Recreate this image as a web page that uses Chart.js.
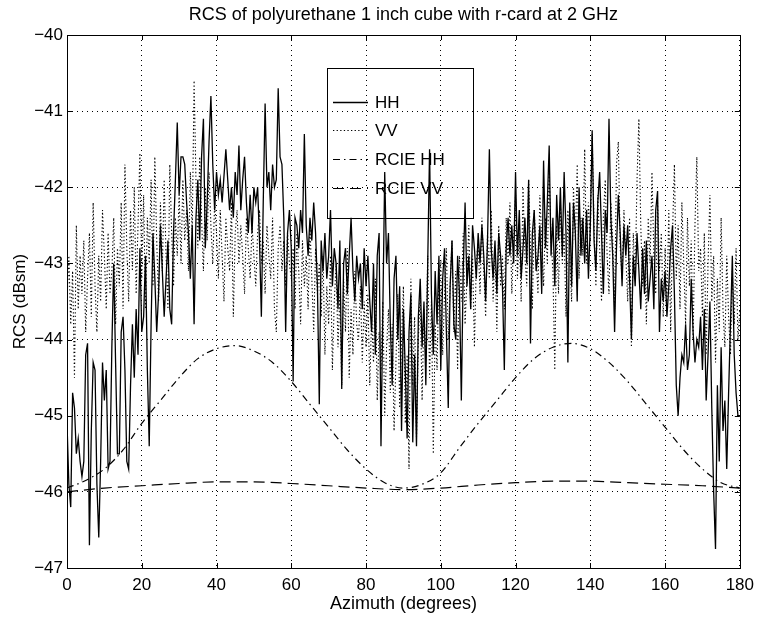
<!DOCTYPE html>
<html>
<head>
<meta charset="utf-8">
<script src="https://cdn.jsdelivr.net/npm/chart.js@4.4.1/dist/chart.umd.min.js"></script>
<style>
  html, body { margin: 0; padding: 0; background: #fff; }
  canvas { display: block; }
</style>
</head>
<body>
<canvas id="c" width="761" height="618"></canvas>
<script>
// ---------------- DATA ----------------
const chartTitle = 'RCS of polyurethane 1 inch cube with r-card at 2 GHz';
const xAxisTitle = 'Azimuth (degrees)';
const yAxisTitle = 'RCS (dBsm)';
const seriesNames = ['HH', 'VV', 'RCIE HH', 'RCIE VV'];

// measured data sampled every 0.5 degree from 0 to 180
const measuredStartDeg = 0;
const measuredStepDeg = 0.5;

const hhValues = [
  -45.1,-45.9,-46.2,-44.7,-44.9,-45.5,-45.3,-45.6,-45.8,-45.6,-44.2,-44.05,-46.7,-45.2,-44.3,-44.4,-45.9,-46.6,-45.6,-44.3,
  -44.8,-44.4,-45.7,-45.6,-44.1,-43.0,-44.3,-45.5,-45.5,-43.9,-43.7,-44.4,-45.6,-45.7,-44.6,-43.8,-44.5,-43.6,-44.2,-42.8,
  -43.9,-43.7,-42.9,-44.4,-45.4,-43.8,-42.6,-43.2,-43.9,-43.4,-42.5,-43.1,-43.7,-43.2,-42.7,-43.6,-43.8,-42.6,-41.9,-41.15,
  -42.1,-41.6,-41.6,-41.7,-42.2,-42.6,-43.2,-42.5,-43.8,-42.4,-41.9,-42.7,-41.6,-41.1,-42.8,-42.2,-41.4,-40.8,-41.7,-42.3,
  -41.8,-42.1,-41.9,-42.2,-41.85,-41.5,-41.9,-42.3,-42.0,-42.4,-41.8,-42.1,-41.45,-42.3,-41.9,-41.6,-42.2,-42.6,-42.1,-42.6,
  -42.0,-42.2,-42.0,-42.7,-43.7,-42.2,-40.9,-42.0,-41.8,-42.3,-41.7,-42.0,-41.9,-40.7,-41.6,-41.7,-42.4,-43.9,-42.6,-42.3,
  -42.8,-44.55,-42.4,-42.5,-42.8,-42.3,-42.6,-41.3,-42.5,-42.9,-42.4,-42.7,-42.2,-42.6,-43.3,-44.85,-42.7,-43.1,-42.6,-43.2,
  -42.9,-42.3,-43.3,-42.8,-43.0,-43.6,-42.7,-44.65,-43.0,-42.8,-43.4,-42.9,-42.4,-43.1,-43.5,-42.9,-43.2,-43.0,-43.6,-42.8,
  -43.3,-42.9,-43.5,-43.9,-43.0,-44.2,-42.9,-42.6,-45.4,-43.6,-41.8,-43.0,-42.6,-43.8,-44.6,-43.2,-42.9,-44.0,-43.3,-45.2,
  -43.6,-44.4,-45.3,-43.9,-43.4,-45.35,-44.2,-45.4,-43.7,-43.2,-44.1,-43.5,-44.6,-43.0,-41.5,-43.4,-44.2,-43.1,-43.8,-42.9,
  -44.4,-43.2,-42.8,-43.9,-44.9,-43.3,-42.7,-43.8,-44.0,-42.9,-43.4,-44.8,-43.1,-42.2,-43.3,-42.9,-43.6,-42.5,-42.8,-43.2,
  -42.6,-43.0,-42.5,-42.9,-43.5,-42.7,-41.5,-42.8,-43.2,-42.7,-43.4,-42.6,-42.9,-43.3,-44.4,-42.8,-42.4,-42.9,-42.5,-43.0,
  -41.8,-42.9,-42.3,-43.2,-42.8,-42.4,-43.0,-41.9,-44.05,-42.6,-42.3,-43.1,-42.9,-42.5,-43.4,-41.65,-42.8,-42.2,-41.45,-42.9,
  -42.4,-43.3,-42.1,-42.7,-42.0,-42.9,-41.8,-42.6,-44.3,-42.2,-43.3,-42.2,-42.6,-43.5,-42.0,-42.9,-42.4,-43.0,-42.3,-43.2,
  -42.5,-41.25,-42.7,-43.1,-42.2,-41.8,-42.6,-43.4,-42.3,-42.6,-41.1,-42.4,-42.9,-43.9,-42.8,-42.1,-42.6,-43.3,-42.5,-42.9,
  -42.5,-43.2,-44.0,-42.9,-43.3,-42.6,-43.1,-43.6,-42.8,-43.4,-42.7,-43.5,-43.2,-42.9,-43.6,-42.3,-42.05,-43.9,-43.2,-43.5,
  -43.1,-43.7,-43.3,-42.8,-42.5,-43.4,-44.6,-45.0,-44.5,-44.2,-44.3,-43.8,-44.4,-44.2,-43.2,-43.9,-44.3,-44.0,-44.1,-43.7,
  -44.4,-43.6,-44.8,-44.2,-43.5,-44.9,-46.0,-46.75,-44.6,-45.6,-44.1,-45.2,-44.8,-45.7,-44.7,-43.8,-42.9,-44.2,-44.7,-45.0,
  -45.0
];

const vvValues = [
  -43.5,-42.9,-43.8,-43.1,-44.5,-42.5,-43.6,-42.9,-43.4,-42.7,-43.9,-43.2,-42.6,-43.7,-42.2,-43.3,-43.9,-42.9,-43.5,-42.3,
  -42.9,-43.6,-42.6,-43.4,-43.1,-42.4,-43.8,-42.8,-43.3,-42.2,-43.6,-41.7,-42.8,-43.5,-42.3,-43.1,-42.0,-43.4,-42.5,-41.55,
  -43.2,-42.1,-43.6,-42.4,-43.0,-41.9,-43.3,-41.6,-42.7,-43.5,-42.2,-43.1,-41.9,-42.9,-43.6,-41.7,-42.6,-43.3,-42.4,-42.9,
  -42.1,-43.0,-41.9,-42.7,-42.3,-43.1,-41.8,-42.6,-40.6,-41.9,-42.8,-41.6,-42.4,-43.1,-42.0,-42.7,-41.8,-42.5,-43.0,-42.2,
  -42.6,-43.2,-42.3,-42.9,-43.5,-42.4,-42.8,-43.1,-42.2,-43.7,-42.6,-42.3,-43.0,-42.5,-42.9,-43.4,-42.4,-42.8,-43.2,-42.5,
  -42.9,-43.3,-42.6,-42.3,-43.0,-42.7,-43.4,-42.5,-42.9,-43.2,-42.4,-43.6,-43.9,-42.8,-42.5,-43.1,-42.7,-43.3,-42.6,-43.0,
  -43.2,-42.8,-43.6,-42.6,-43.1,-43.8,-42.7,-43.3,-42.9,-43.6,-42.5,-43.2,-43.9,-42.8,-43.4,-43.0,-43.7,-42.9,-44.2,-43.3,
  -43.8,-42.9,-44.4,-43.5,-43.0,-44.1,-43.4,-44.6,-43.2,-43.9,-42.8,-44.5,-43.6,-44.2,-43.1,-43.8,-44.0,-43.3,-44.3,-43.5,
  -44.1,-43.4,-44.6,-43.7,-44.3,-43.2,-44.8,-43.9,-44.4,-43.5,-45.0,-44.1,-43.6,-44.7,-43.8,-45.2,-44.3,-43.4,-44.9,-44.0,
  -43.3,-45.1,-44.2,-45.7,-43.2,-44.6,-43.7,-45.3,-44.0,-43.4,-44.8,-43.6,-44.3,-42.9,-44.5,-43.5,-45.5,-43.8,-44.4,-43.1,
  -43.0,-44.2,-43.4,-42.8,-44.0,-43.3,-42.7,-43.9,-43.1,-44.4,-42.9,-43.5,-42.6,-43.8,-43.2,-42.5,-43.6,-42.9,-44.1,-43.0,
  -42.7,-43.4,-42.4,-43.1,-43.7,-42.6,-43.2,-42.3,-43.5,-42.8,-43.9,-42.5,-43.3,-42.9,-43.6,-42.4,-43.0,-42.2,-43.4,-42.7,
  -42.1,-43.2,-42.6,-43.5,-42.0,-42.9,-43.3,-41.9,-42.8,-43.6,-42.3,-42.9,-43.4,-42.1,-42.7,-43.3,-42.4,-43.0,-41.8,-42.7,
  -43.1,-44.4,-42.5,-43.4,-42.2,-43.0,-42.6,-43.7,-42.3,-42.9,-43.5,-42.0,-42.7,-41.7,-43.2,-42.4,-42.9,-41.5,-43.0,-42.2,
  -42.7,-41.3,-42.5,-43.3,-42.1,-42.8,-43.5,-42.4,-41.9,-42.9,-43.4,-42.2,-42.7,-43.6,-41.7,-41.4,-42.8,-43.2,-42.3,-42.9,
  -43.5,-42.4,-44.1,-42.6,-43.2,-41.9,-41.1,-42.5,-43.3,-42.7,-43.8,-42.4,-43.0,-41.8,-42.9,-43.4,-42.2,-43.1,-42.6,-43.7,
  -42.8,-43.5,-42.3,-43.9,-42.6,-41.7,-43.2,-42.5,-43.6,-42.2,-43.0,-43.8,-42.4,-43.3,-42.7,-44.0,-42.5,-41.6,-43.1,-42.8,
  -43.7,-42.6,-44.2,-43.0,-42.1,-43.5,-42.9,-44.3,-43.2,-43.9,-42.4,-43.6,-44.1,-42.9,-43.7,-44.2,-43.1,-43.8,-42.8,-44.0,
  -43.6
];

// RCIE predictions
const rcieHhAzimuth = [0,5,10,15,20,25,30,35,40,45,50,55,60,65,70,75,80,85,90,95,100,105,110,115,120,125,130,135,140,145,150,155,160,165,170,175,180];
const rcieHhValues  = [-45.95,-45.85,-45.7,-45.45,-45.1,-44.8,-44.5,-44.25,-44.12,-44.08,-44.15,-44.3,-44.55,-44.85,-45.15,-45.45,-45.7,-45.88,-45.95,-45.9,-45.75,-45.42,-45.1,-44.8,-44.5,-44.25,-44.1,-44.05,-44.12,-44.3,-44.55,-44.85,-45.15,-45.45,-45.7,-45.88,-45.95];

const rcieVvAzimuth = [0,10,20,30,40,50,60,70,80,90,100,110,120,130,140,150,160,170,180];
const rcieVvValues  = [-46.0,-45.95,-45.92,-45.89,-45.87,-45.87,-45.89,-45.92,-45.95,-45.97,-45.95,-45.91,-45.88,-45.86,-45.86,-45.88,-45.9,-45.92,-45.95];

// axis ranges / ticks
const xMin = 0, xMax = 180, xStep = 20;
const yMin = -47, yMax = -40, yStep = 1;

// ---------------- BUILD ----------------
function pairMeasured(values) {
  return values.map((v, i) => ({ x: measuredStartDeg + i * measuredStepDeg, y: v }));
}
function pairXY(xs, ys) { return xs.map((x, i) => ({ x: x, y: ys[i] })); }

const FONT = "'Liberation Sans', Arial, Helvetica, sans-serif";

const boxAndTicks = {
  id: 'boxAndTicks',
  afterDatasetsDraw(chart) {
    const { ctx, chartArea: a, scales } = chart;
    ctx.save();
    ctx.strokeStyle = '#000';
    ctx.lineWidth = 1;
    ctx.setLineDash([]);
    ctx.strokeRect(Math.round(a.left) + 0.5, Math.round(a.top) + 0.5,
                   Math.round(a.right - a.left), Math.round(a.bottom - a.top));
    const len = 5;
    ctx.beginPath();
    scales.x.ticks.forEach(t => {
      const px = Math.round(scales.x.getPixelForValue(t.value)) + 0.5;
      ctx.moveTo(px, a.bottom); ctx.lineTo(px, a.bottom - len);
      ctx.moveTo(px, a.top); ctx.lineTo(px, a.top + len);
    });
    scales.y.ticks.forEach(t => {
      const py = Math.round(scales.y.getPixelForValue(t.value)) + 0.5;
      ctx.moveTo(a.left, py); ctx.lineTo(a.left + len, py);
      ctx.moveTo(a.right, py); ctx.lineTo(a.right - len, py);
    });
    ctx.stroke();
    ctx.restore();
  }
};

const insideLegend = {
  id: 'insideLegend',
  afterDraw(chart) {
    const { ctx } = chart;
    const box = { x: 327, y: 68, w: 146, h: 150 };
    const rowY = [102, 130, 159, 188];
    ctx.save();
    ctx.strokeStyle = '#000';
    ctx.lineWidth = 1;
    ctx.setLineDash([]);
    ctx.strokeRect(box.x + 0.5, box.y + 0.5, box.w, box.h);
    chart.data.datasets.forEach((ds, i) => {
      ctx.beginPath();
      ctx.setLineDash(ds.borderDash || []);
      ctx.lineWidth = ds.borderWidth;
      ctx.strokeStyle = ds.borderColor;
      ctx.moveTo(333, rowY[i] + 0.5);
      ctx.lineTo(368, rowY[i] + 0.5);
      ctx.stroke();
      ctx.setLineDash([]);
      ctx.fillStyle = '#000';
      ctx.font = '17px ' + FONT;
      ctx.textBaseline = 'middle';
      ctx.textAlign = 'left';
      ctx.fillText(ds.label, 375, rowY[i] + 1);
    });
    ctx.restore();
  }
};

const minusFmt = v => (v < 0 ? '\u2212' + Math.abs(v) : String(v));

new Chart(document.getElementById('c'), {
  type: 'line',
  data: {
    datasets: [
      { label: seriesNames[0], data: pairMeasured(hhValues), borderColor: '#000', borderWidth: 1.3, borderDash: [], pointRadius: 0, tension: 0 },
      { label: seriesNames[1], data: pairMeasured(vvValues), borderColor: '#000', borderWidth: 1.1, borderDash: [1.3, 2.3], pointRadius: 0, tension: 0 },
      { label: seriesNames[2], data: pairXY(rcieHhAzimuth, rcieHhValues), borderColor: '#000', borderWidth: 1.2, borderDash: [7, 4, 1.5, 4], pointRadius: 0, cubicInterpolationMode: 'monotone' },
      { label: seriesNames[3], data: pairXY(rcieVvAzimuth, rcieVvValues), borderColor: '#000', borderWidth: 1.2, borderDash: [11, 6], pointRadius: 0, cubicInterpolationMode: 'monotone' }
    ]
  },
  options: {
    responsive: false,
    animation: false,
    events: [],
    layout: { padding: { left: 0, right: 16, top: 0, bottom: 0 } },
    plugins: {
      legend: { display: false },
      tooltip: { enabled: false },
      title: {
        display: true, text: chartTitle, fullSize: false, color: '#000',
        font: { family: FONT, size: 18, weight: 'normal', lineHeight: 1.2 },
        padding: { top: 4, bottom: 9.4 }
      }
    },
    scales: {
      x: {
        type: 'linear', min: xMin, max: xMax,
        afterFit: s => { s.height = 50; },
        ticks: { stepSize: xStep, color: '#000', padding: 7, maxRotation: 0, font: { family: FONT, size: 17 } },
        grid: { color: '#000', lineWidth: 1, drawTicks: false },
        border: { display: false, dash: [1, 4] },
        title: { display: true, text: xAxisTitle, color: '#000', font: { family: FONT, size: 18 }, padding: { top: 0, bottom: 3 } }
      },
      y: {
        type: 'linear', min: yMin, max: yMax,
        afterFit: s => { s.width = 67; },
        ticks: { stepSize: yStep, color: '#000', padding: 4, font: { family: FONT, size: 17 }, callback: minusFmt },
        grid: { color: '#000', lineWidth: 1, drawTicks: false },
        border: { display: false, dash: [1, 4] },
        title: { display: true, text: yAxisTitle, color: '#000', font: { family: FONT, size: 17 }, padding: { top: 10, bottom: 0 } }
      }
    }
  },
  plugins: [boxAndTicks, insideLegend]
});
</script>
</body>
</html>
